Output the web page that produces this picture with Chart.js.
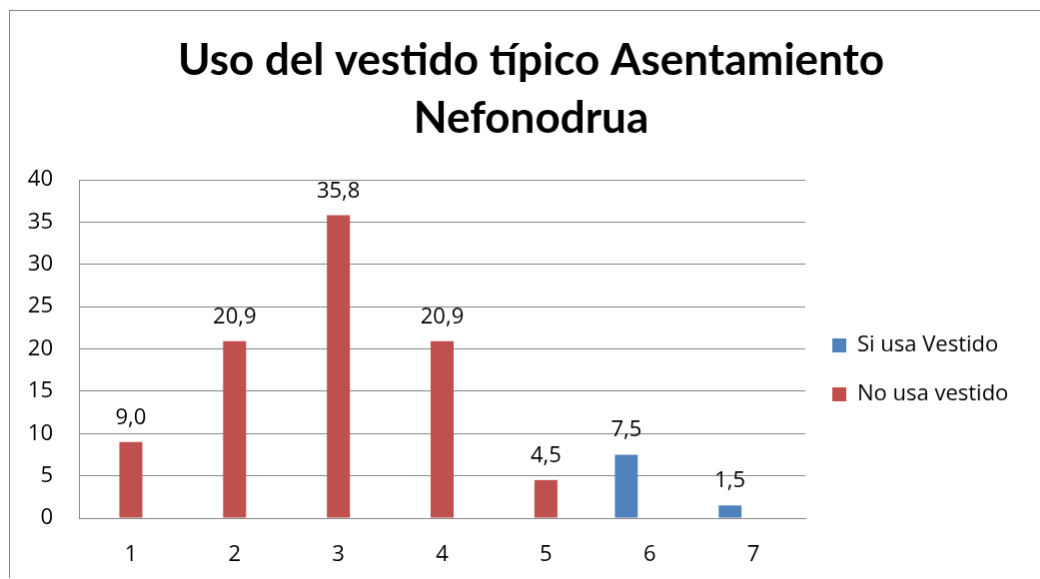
<!DOCTYPE html>
<html>
<head>
<meta charset="utf-8">
<script src="https://cdn.jsdelivr.net/npm/chart.js@4/dist/chart.umd.min.js"></script>
<style>
    html, body { margin: 0; padding: 0; background: #fff; overflow: hidden; }
    #chart {
        position: absolute;
        left: 9px;
        top: 10px;
        border-left: 1px solid #8a8a8a;
        border-top: 1px solid #8a8a8a;
    }
</style>
</head>
<body>
<canvas id="chart" width="1100" height="568" style="width:1100px;height:568px"></canvas>
<script>
// chart data
const categories = ['1', '2', '3', '4', '5', '6', '7'];
const siUsaVestido = [null, null, null, null, null, 7.5, 1.5];
const noUsaVestido = [9.0, 20.9, 35.8, 20.9, 4.5, 0, 0];
const titleLines = ['Uso del vestido típico Asentamiento', 'Nefonodrua'];

const BLUE = '#4f81bd';
const RED = '#c0504d';
const GRID = '#878787';
const BODY_FONT = "'Open Sans', 'DejaVu Sans', sans-serif";
const FONT_SIZE = 22;

// draws the value above each bar, decimal comma like the original
const barValueLabels = {
    id: 'barValueLabels',
    afterDatasetsDraw( chart ) {
        const ctx = chart.ctx;
        ctx.save();
        ctx.font = `${FONT_SIZE}px ${BODY_FONT}`;
        ctx.fillStyle = '#000';
        ctx.textAlign = 'center';
        ctx.textBaseline = 'alphabetic';
        chart.data.datasets.forEach( (ds, i) => {
            const meta = chart.getDatasetMeta(i);
            meta.data.forEach( (bar, idx) => {
                const v = ds.data[idx];
                if( v === null || v === 0 ) {
                    return;
                }
                ctx.fillText(v.toFixed(1).replace('.', ','), bar.x, bar.y - 18);
            });
        });
        ctx.restore();
    }
};

// the legend box is wider than its text, so the title sits centred like the original
const legendWidth = {
    id: 'legendWidth',
    beforeLayout( chart ) {
        const lg = chart.legend;
        if( lg && !lg._fixedWidth ) {
            const fit = lg.fit;
            lg.fit = function() {
                fit.call(this);
                this.width = 229;
            };
            lg._fixedWidth = true;
        }
    }
};

const ctx = document.getElementById('chart');
const chart = new Chart(ctx, {
    type: 'bar',
    data: {
        labels: categories,
        datasets: [{
            label: 'Si usa Vestido',
            data: siUsaVestido,
            backgroundColor: BLUE
        }, {
            label: 'No usa vestido',
            data: noUsaVestido,
            backgroundColor: RED
        }]
    },
    options: {
        responsive: false,
        animation: false,
        devicePixelRatio: 1,
        skipNull: true,
        categoryPercentage: 0.9,
        barPercentage: 0.49,
        maxBarThickness: 23,
        layout: {
            padding: { left: 18, right: 75, top: 0, bottom: 0 }
        },
        plugins: {
            tooltip: { enabled: false },
            title: {
                display: true,
                text: titleLines,
                color: '#000',
                font: { family: "Lato, 'Open Sans', sans-serif", size: 44, weight: 'bold', lineHeight: 58 / 44 },
                padding: { top: 21, bottom: 32 }
            },
            legend: {
                position: 'right',
                align: 'center',
                fullSize: false,
                title: {
                    display: true,
                    text: '',
                    font: { size: 10, lineHeight: 1 },
                    padding: { top: 32, bottom: 0 }
                },
                labels: {
                    boxWidth: 14,
                    boxHeight: 14,
                    padding: 27,
                    color: '#000',
                    font: { family: BODY_FONT, size: FONT_SIZE }
                }
            }
        },
        scales: {
            x: {
                afterFit( scale ) { scale.height = 60; },
                grid: { display: false, drawTicks: false },
                border: { display: true, color: GRID, width: 1 },
                ticks: {
                    color: '#000',
                    padding: 24,
                    font: { family: BODY_FONT, size: FONT_SIZE }
                }
            },
            y: {
                min: 0,
                max: 40,
                afterFit( scale ) { scale.width = 51; },
                grid: { color: GRID, lineWidth: 1, drawTicks: false },
                border: { display: true, color: GRID, width: 1 },
                ticks: {
                    stepSize: 5,
                    color: '#000',
                    padding: 26,
                    font: { family: BODY_FONT, size: FONT_SIZE }
                }
            }
        }
    },
    plugins: [barValueLabels, legendWidth]
});
</script>
</body>
</html>
